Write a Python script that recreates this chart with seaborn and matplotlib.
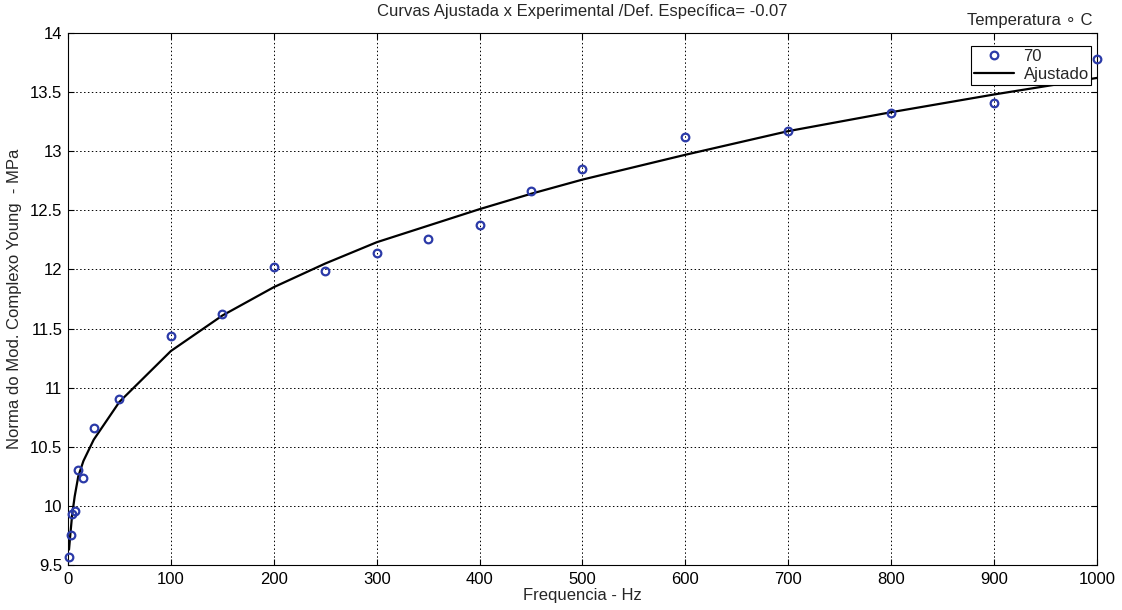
import matplotlib
matplotlib.use("Agg")
import matplotlib.pyplot as plt
import seaborn as sns
import pandas as pd
from matplotlib.lines import Line2D

# Measured modulus at 70 °C and the fitted curve at the same frequencies
freq_hz = [1, 2.5, 4, 6.5, 10, 15, 25, 50, 100, 150, 200, 250, 300, 350, 400,
           450, 500, 600, 700, 800, 900, 1000]
modulus_exp = [9.57, 9.75, 9.93, 9.96, 10.30, 10.24, 10.66, 10.90, 11.44, 11.62,
               12.02, 11.99, 12.14, 12.26, 12.38, 12.66, 12.85, 13.12, 13.17,
               13.32, 13.41, 13.78]
modulus_fit = [9.63, 9.78, 9.92, 10.08, 10.25, 10.38, 10.56, 10.88, 11.31, 11.61,
               11.85, 12.05, 12.23, 12.37, 12.51, 12.64, 12.76, 12.97, 13.17,
               13.33, 13.48, 13.62]

x_ticks = [0, 100, 200, 300, 400, 500, 600, 700, 800, 900, 1000]
y_ticks = [9.5, 10, 10.5, 11, 11.5, 12, 12.5, 13, 13.5, 14]

df = pd.DataFrame({"freq": freq_hz, "exp": modulus_exp, "fit": modulus_fit})

sns.set_style("white")
plt.rcParams["font.family"] = ["Liberation Sans", "DejaVu Sans"]

fig = plt.figure(figsize=(11.22, 6.10), dpi=100)
ax = fig.add_axes([0.0606, 0.0738, 0.9171, 0.8721])

blue = "#2b3aa8"
sns.lineplot(data=df, x="freq", y="fit", ax=ax, color="black", linewidth=1.6,
             sort=False, legend=False)
sns.lineplot(data=df, x="freq", y="exp", ax=ax, linestyle="none", marker="o",
             markersize=5.5, markerfacecolor="none", markeredgecolor=blue,
             markeredgewidth=1.6, legend=False, clip_on=False, zorder=3)

ax.set_xlim(0, 1000)
ax.set_ylim(9.5, 14)
ax.set_xticks(x_ticks)
ax.set_yticks(y_ticks)
ax.set_xticklabels([str(v) for v in x_ticks])
ax.set_yticklabels([f"{v:g}" for v in y_ticks])
ax.tick_params(direction="in", length=4, width=0.8, labelsize=12, colors="black",
               top=True, right=True, bottom=True, left=True)
ax.tick_params(axis="x", pad=5)
ax.tick_params(axis="y", pad=4)
ax.grid(True, color="black", linestyle=(0, (1.5, 2.5)), linewidth=0.7)
for s in ax.spines.values():
    s.set_color("black")
    s.set_linewidth(0.8)

ax.set_xlabel("Frequencia - Hz", fontsize=12, labelpad=1)
ax.set_ylabel("Norma do Mod. Complexo Young  - MPa", fontsize=12, labelpad=6)
ax.set_title("Curvas Ajustada x Experimental /Def. Específica= -0.07",
             fontsize=12, pad=12)

handles = [
    Line2D([], [], linestyle="none", marker="o", markersize=5.5,
           markerfacecolor="none", markeredgecolor=blue, markeredgewidth=1.6),
    Line2D([], [], color="black", linewidth=1.6),
]
leg = ax.legend(handles, ["70", "Ajustado"], loc="upper right",
                bbox_to_anchor=(0.9945, 0.975), fontsize=12, frameon=True,
                fancybox=False, framealpha=1, edgecolor="black",
                borderpad=0.15, handlelength=2.4, handletextpad=0.6,
                labelspacing=0.2, borderaxespad=0)
leg.get_frame().set_linewidth(0.8)
fig.text(0.918, 0.967, "Temperatura ∘ C", ha="center", va="center", fontsize=12,
         family=["Liberation Sans", "DejaVu Sans"])

fig.savefig("out.png", dpi=100)
